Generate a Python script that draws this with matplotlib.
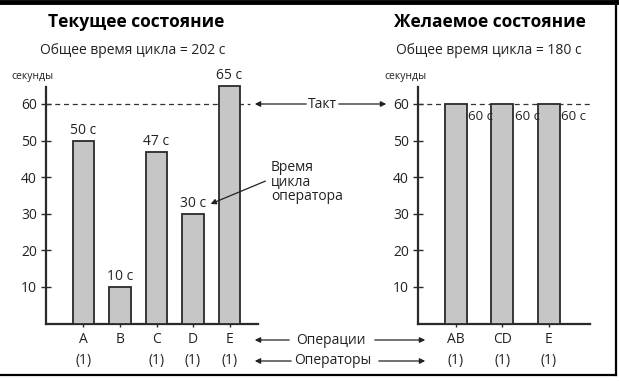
import matplotlib
matplotlib.use("Agg")
import matplotlib.pyplot as plt
from matplotlib.lines import Line2D

plt.rcParams['font.family'] = ['Open Sans', 'DejaVu Sans']

# Current state
cur_ops = ["A", "B", "C", "D", "E"]
cur_workers = ["(1)", "", "(1)", "(1)", "(1)"]
cur_times = [50, 10, 47, 30, 65]

# Desired state
new_ops = ["AB", "CD", "E"]
new_workers = ["(1)", "(1)", "(1)"]
new_times = [60, 60, 60]

takt = 60
yticks = [10, 20, 30, 40, 50, 60]

W, H = 619, 381
fig = plt.figure(figsize=(W / 100, H / 100), dpi=100)
TXT = '#222222'
BAR = '#c6c6c6'
EDGE = '#2a2a2a'


def px(x, y):
    # pixel coords (top-left origin) -> figure fraction
    return (x / W, 1 - y / H)


def make_axes(x0, x1):
    y0, y1 = 323.6, 82
    ax = fig.add_axes([x0 / W, 1 - y0 / H, (x1 - x0) / W, (y0 - y1) / H])
    ax.set_ylim(0, 66)
    for s in ['top', 'right']:
        ax.spines[s].set_visible(False)
    ax.spines['left'].set_bounds(0, 64.6)
    ax.spines['left'].set_linewidth(1.6)
    ax.spines['bottom'].set_linewidth(1.6)
    ax.spines['left'].set_color(EDGE)
    ax.spines['bottom'].set_color(EDGE)
    ax.set_yticks(yticks)
    ax.tick_params(axis='y', direction='inout', length=7, width=1, pad=3,
                   labelsize=10, labelcolor=TXT, color=EDGE)
    ax.tick_params(axis='x', direction='inout', length=4, width=1, pad=4,
                   labelsize=10, labelcolor=TXT, color=EDGE)
    ax.patch.set_alpha(0)
    return ax


# ---- left: current state
ax1 = make_axes(46, 258)
xs = list(range(len(cur_ops)))
ax1.bar(xs, cur_times, width=0.6, color=BAR, edgecolor=EDGE, linewidth=1.3,
        clip_on=False, zorder=3)
ax1.set_xlim(-1.027, 4.78)
ax1.set_xticks(xs)
ax1.set_xticklabels([o + "\n" + w for o, w in zip(cur_ops, cur_workers)],
                    linespacing=1.55, va='top')
ax1.plot([-1.027, 4.56], [takt, takt], ls=(0, (4, 3)), color='#333333',
         lw=0.9, zorder=2)
for x, t in zip(xs, cur_times):
    ax1.annotate(f"{t} с", (x, t), xytext=(0, 2), textcoords='offset points',
                 ha='center', va='bottom', fontsize=10, color=TXT)

# ---- right: desired state
ax2 = make_axes(418, 590)
xs2 = list(range(len(new_ops)))
ax2.bar(xs2, new_times, width=0.475, color=BAR, edgecolor=EDGE, linewidth=1.3,
        zorder=3)
ax2.set_xlim(-0.82, 2.89)
ax2.set_xticks(xs2)
ax2.set_xticklabels([o + "\n" + w for o, w in zip(new_ops, new_workers)],
                    linespacing=1.55, va='top')
ax2.plot([-0.82, 2.89], [takt, takt], ls=(0, (4, 3)), color='#333333',
         lw=0.9, zorder=2)
for x, t in zip(xs2, new_times):
    ax2.annotate(f"{t} с", (x + 0.2375, t), xytext=(1, -4),
                 textcoords='offset points', ha='left', va='top',
                 fontsize=9.5, color=TXT, zorder=4)

# ---- titles
fig.text(*px(136, 22), "Текущее состояние", ha='center', va='center',
         fontsize=12.5, fontweight='bold', color='black')
fig.text(*px(133, 50), "Общее время цикла = 202 с", ha='center', va='center',
         fontsize=10, color=TXT)
fig.text(*px(490, 22), "Желаемое состояние", ha='center', va='center',
         fontsize=12.5, fontweight='bold', color='black')
fig.text(*px(489, 50), "Общее время цикла = 180 с", ha='center', va='center',
         fontsize=10, color=TXT)
fig.text(*px(32, 77), "секунды", ha='center', va='center', fontsize=7.5,
         color=TXT)
fig.text(*px(405, 77), "секунды", ha='center', va='center', fontsize=7.5,
         color=TXT)


# ---- callouts with arrows
def arrow(x0, y0, x1, y1):
    fig.add_artist(matplotlib.patches.FancyArrowPatch(
        px(x0, y0), px(x1, y1), transform=fig.transFigure,
        arrowstyle='-|>', mutation_scale=8, lw=0.9, color='#222222'))


fig.text(*px(322, 104), "Такт", ha='center', va='center', fontsize=10,
         color=TXT)
arrow(309, 104, 252, 104)
arrow(336, 104, 389, 104)

fig.text(*px(331, 340), "Операции", ha='center', va='center', fontsize=10,
         color=TXT)
arrow(292, 340, 252, 340)
arrow(372, 340, 428, 340)

fig.text(*px(333, 361), "Операторы", ha='center', va='center', fontsize=10,
         color=TXT)
arrow(294, 361, 252, 361)
arrow(376, 361, 428, 361)

fig.text(*px(271, 182), "Время\nцикла\nоператора", ha='left', va='center',
         fontsize=10, color=TXT, linespacing=0.95)
arrow(268, 180, 208, 205)

# ---- frame
fig.add_artist(Line2D([0, 1], [1 - 1.5 / H, 1 - 1.5 / H], lw=3.5,
                      color='black', transform=fig.transFigure))
fig.add_artist(Line2D([616 / W, 616 / W], [1 - 375 / H, 1], lw=1.6,
                      color='black', transform=fig.transFigure))
fig.add_artist(Line2D([0, 616 / W], [1 - 375 / H, 1 - 375 / H], lw=1.6,
                      color='black', transform=fig.transFigure))

fig.savefig("out.png", dpi=100)
